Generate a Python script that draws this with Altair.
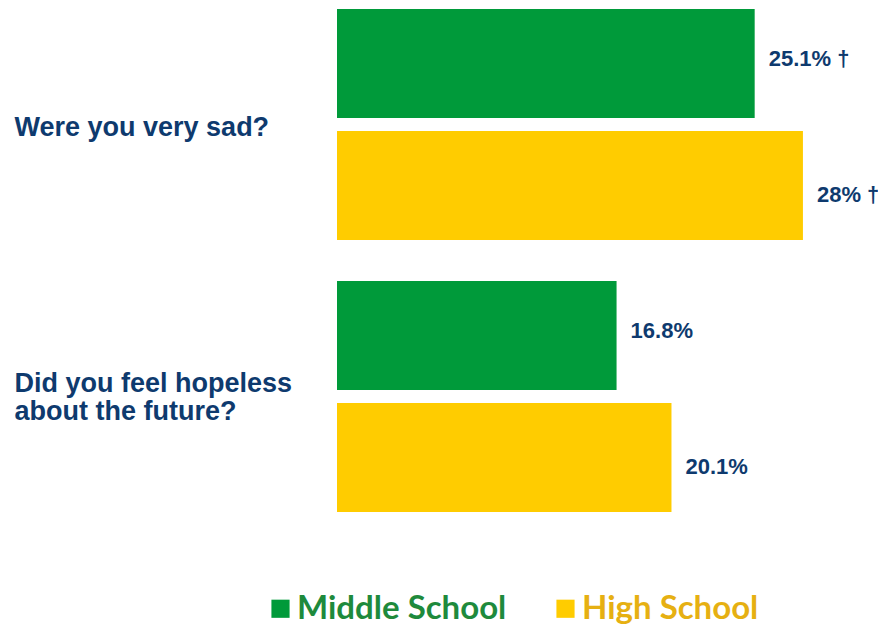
import altair as alt
import pandas as pd

questions = ["Were you very sad?", "Did you feel hopeless\nabout the future?"]
schools = ["Middle School", "High School"]
middle_school = [25.1, 16.8]
high_school = [28.0, 20.1]
marks_ms = ["†", ""]
marks_hs = ["†", ""]

rows = []
for i, q in enumerate(questions):
    for s, vals, mk in [("Middle School", middle_school, marks_ms), ("High School", high_school, marks_hs)]:
        v = vals[i]
        lab = f"{v:g}%" + (f" {mk[i]}" if mk[i] else "")
        rows.append({"question": q, "school": s, "value": v, "label": lab})
df = pd.DataFrame(rows)

colors = ["#009A3A", "#FFCC00"]
navy = "#0E3A6E"

y_enc = alt.Y("question:N", sort=questions, title=None,
              scale=alt.Scale(paddingInner=0.15, paddingOuter=0),
              axis=alt.Axis(domain=False, ticks=False, tickSize=0, labelAlign="left",
                            labelPadding=323, labelFont="Liberation Sans", labelFontSize=27,
                            labelFontWeight="bold", labelColor=navy, labelLineHeight=28,
                            labelOffset=alt.ExprRef(expr="indexof(datum.label, '\\n') >= 0 ? -12 : 3"),
                            labelExpr="split(datum.label, '\\n')", labelLimit=400))
x_enc = alt.X("value:Q", scale=alt.Scale(domain=[0, 32.03], nice=False, zero=True), axis=None)
yoff = alt.YOffset("school:N", sort=schools, scale=alt.Scale(paddingInner=0.107, paddingOuter=0))

base = alt.Chart(df)

bars = base.mark_bar().encode(
    x=x_enc, y=y_enc, yOffset=yoff,
    color=alt.Color("school:N", sort=schools,
                    scale=alt.Scale(domain=schools, range=colors),
                    legend=alt.Legend(title=None, orient="none", direction="horizontal",
                                      legendX=-73, legendY=583,
                                      symbolType="square", symbolSize=330, symbolStrokeWidth=0,
                                      labelFont="Lato", labelFontSize=33, labelFontWeight="bold",
                                      labelColor=alt.ExprRef(expr="datum.label == 'Middle School' ? '#1E8A3C' : '#E6B012'"),
                                      labelOffset=0, columnPadding=42, labelLimit=400)),
)

def value_text(school, dy):
    return base.transform_filter(alt.datum.school == school).mark_text(
        align="left", baseline="middle", dx=14, dy=dy,
        font="Liberation Sans", fontSize=22, fontWeight="bold", color=navy,
    ).encode(x=x_enc, y=alt.Y("question:N", sort=questions), yOffset=yoff, text="label:N")

text_ms = value_text("Middle School", -4.5)
text_hs = value_text("High School", 9.5)

chart = (bars + text_ms + text_hs).properties(
    width=533, height=503,
    background="white",
    autosize=alt.AutoSizeParams(type="none"),
    padding={"left": 329, "top": 1, "right": 8, "bottom": 112},
).configure_view(stroke=None, strokeWidth=0)

chart.save("out.html", embed_options={"renderer": "svg", "actions": False})
